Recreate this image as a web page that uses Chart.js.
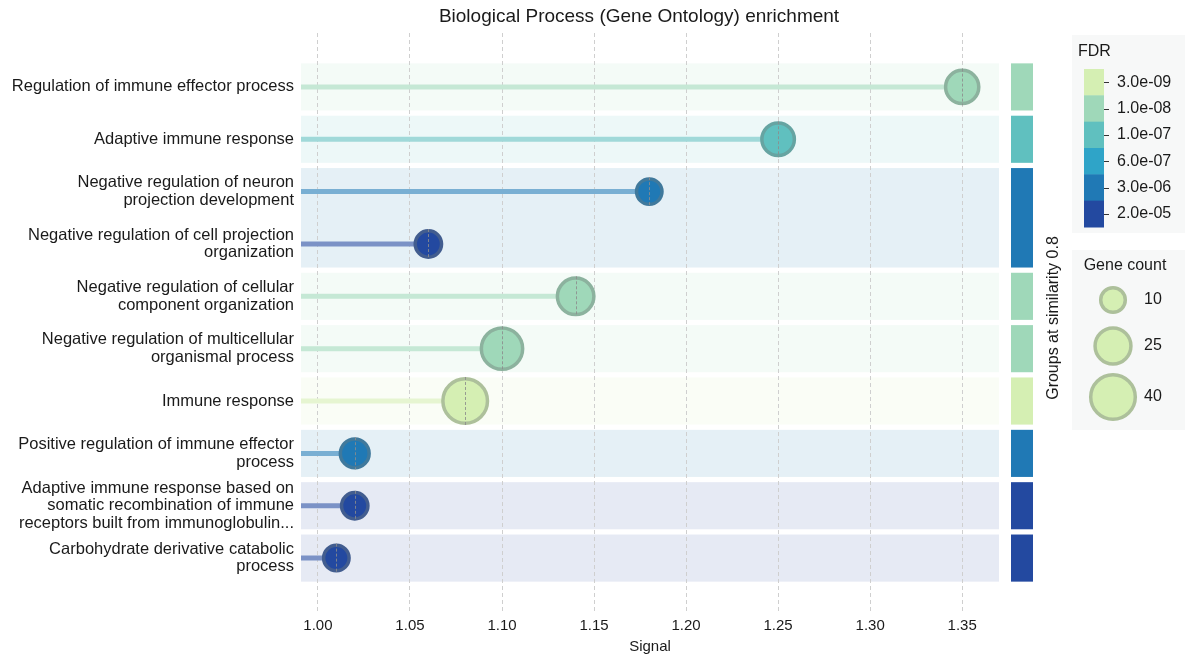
<!DOCTYPE html>
<html>
<head>
<meta charset="utf-8">
<script src="https://cdn.jsdelivr.net/npm/chart.js@4.4.1/dist/chart.umd.min.js"></script>
<style>
  html, body { margin: 0; padding: 0; background: #ffffff; }
  #wrap { width: 1187px; height: 656px; }
</style>
</head>
<body>
<div id="wrap"><canvas id="c" width="1187" height="656"></canvas></div>
<script>
// ---------- data ----------
const termLabels = [
  ['Regulation of immune effector process'],
  ['Adaptive immune response'],
  ['Negative regulation of neuron', 'projection development'],
  ['Negative regulation of cell projection', 'organization'],
  ['Negative regulation of cellular', 'component organization'],
  ['Negative regulation of multicellular', 'organismal process'],
  ['Immune response'],
  ['Positive regulation of immune effector', 'process'],
  ['Adaptive immune response based on', 'somatic recombination of immune', 'receptors built from immunoglobulin...'],
  ['Carbohydrate derivative catabolic', 'process']
];
const signalValues = [1.35, 1.25, 1.18, 1.06, 1.14, 1.10, 1.08, 1.02, 1.02, 1.01];
const geneCounts   = [21, 20, 11, 12, 26, 34, 40, 15, 12, 11];
const fdrLevel     = [1, 2, 4, 5, 1, 1, 0, 4, 5, 5];   // index into fdrLabels / fdrColors
const fdrLabels    = ['3.0e-09', '1.0e-08', '1.0e-07', '6.0e-07', '3.0e-06', '2.0e-05'];
const fdrColors    = ['#d5efb3', '#9fd8b9', '#60c0bf', '#2fa4c8', '#2079b5', '#2349a0'];
const groupRows    = [[0], [1], [2, 3], [4], [5], [6], [7], [8], [9]];
const groupLevel   = [1, 2, 4, 1, 1, 0, 4, 5, 5];
const xTickValues  = [1.00, 1.05, 1.10, 1.15, 1.20, 1.25, 1.30, 1.35];
const legendCounts = [10, 25, 40];

const X_MIN = 0.9908, X_MAX = 1.370;
const FONT = "'Liberation Sans', Arial, Helvetica, sans-serif";

// ---------- helpers ----------
function hexToRgb(h) {
  const n = parseInt(h.slice(1), 16);
  return [(n >> 16) & 255, (n >> 8) & 255, n & 255];
}
function mix(h, other, t) {
  const a = hexToRgb(h);
  const r = a.map((v, i) => Math.round(v * (1 - t) + other[i] * t));
  return 'rgb(' + r.join(',') + ')';
}
const tint   = (h, a) => mix(h, [255, 255, 255], 1 - a);
const shade  = (h) => mix(h, [112, 122, 118], 0.4);
const outerR = (c) => Math.sqrt(70 + 12.7 * c);
const ptR    = (c) => outerR(c) - 1.75;

// ---------- datasets ----------
const bubbleDataset = {
  type: 'scatter',
  data: signalValues.map((v, i) => ({ x: v, y: i })),
  pointRadius: geneCounts.map(ptR),
  pointHoverRadius: geneCounts.map(ptR),
  backgroundColor: fdrLevel.map(l => fdrColors[l]),
  borderColor: fdrLevel.map(l => shade(fdrColors[l])),
  borderWidth: 3.5,
  pointHoverBorderWidth: 3.5
};
const stemDatasets = signalValues.map((v, i) => ({
  type: 'line',
  data: [{ x: X_MIN, y: i }, { x: v, y: i }],
  borderColor: tint(fdrColors[fdrLevel[i]], 0.6),
  borderWidth: 5,
  borderCapStyle: 'butt',
  pointRadius: 0,
  pointHoverRadius: 0,
  fill: false
}));

// ---------- plugins ----------
const backdropPlugin = {
  id: 'backdrop',
  beforeDraw(chart) {
    const { ctx, chartArea, scales } = chart;
    const y = scales.y;
    ctx.save();
    groupRows.forEach((rows, g) => {
      const top = y.getPixelForValue(rows[0] - 0.45);
      const bot = y.getPixelForValue(rows[rows.length - 1] + 0.45);
      const col = fdrColors[groupLevel[g]];
      ctx.fillStyle = tint(col, 0.115);
      ctx.fillRect(chartArea.left, top, chartArea.right - chartArea.left, bot - top);
      ctx.fillStyle = col;
      ctx.fillRect(chartArea.right + 12, top, 22, bot - top);
    });
    ctx.restore();
  },
  afterDatasetsDraw(chart) {
    const { ctx, scales } = chart;
    ctx.save();
    ctx.strokeStyle = 'rgba(140,140,140,0.85)';
    ctx.lineWidth = 1;
    ctx.setLineDash([3, 2]);
    signalValues.forEach((v, i) => {
      const px = Math.round(scales.x.getPixelForValue(v)) + 0.5;
      const py = scales.y.getPixelForValue(i);
      const r = outerR(geneCounts[i]);
      ctx.beginPath();
      ctx.moveTo(px, py - r);
      ctx.lineTo(px, py + r);
      ctx.stroke();
    });
    ctx.restore();
  },
  afterDraw(chart) {
    const { ctx } = chart;
    ctx.save();
    // title
    ctx.fillStyle = '#1a1a1a';
    ctx.font = '19px ' + FONT;
    ctx.textAlign = 'center';
    ctx.textBaseline = 'middle';
    ctx.fillText('Biological Process (Gene Ontology) enrichment', 639, 17);

    // rotated group label
    ctx.save();
    ctx.translate(1054, 318);
    ctx.rotate(-Math.PI / 2);
    ctx.font = '16px ' + FONT;
    ctx.fillText('Groups at similarity 0.8', 0, 0);
    ctx.restore();

    // FDR panel
    ctx.fillStyle = '#f7f8f8';
    ctx.fillRect(1072, 35, 113, 198);
    ctx.fillStyle = '#1a1a1a';
    ctx.textAlign = 'left';
    ctx.font = '16px ' + FONT;
    ctx.fillText('FDR', 1078, 52);
    const segH = (227 - 69) / fdrColors.length;
    fdrColors.forEach((c, k) => {
      ctx.fillStyle = c;
      ctx.fillRect(1084, 69 + k * segH, 20, segH + 0.5);
    });
    ctx.strokeStyle = '#333';
    ctx.lineWidth = 1;
    fdrLabels.forEach((t, k) => {
      const cy = 69 + (k + 0.5) * segH;
      ctx.beginPath();
      ctx.moveTo(1104, Math.round(cy) + 0.5);
      ctx.lineTo(1109, Math.round(cy) + 0.5);
      ctx.stroke();
      ctx.fillStyle = '#1a1a1a';
      ctx.fillText(t, 1117, cy);
    });

    // Gene count panel
    ctx.fillStyle = '#f7f8f8';
    ctx.fillRect(1072, 250, 113, 180);
    ctx.fillStyle = '#1a1a1a';
    ctx.textAlign = 'center';
    ctx.fillText('Gene count', 1125, 266);
    const ys = [300, 346, 397];
    legendCounts.forEach((c, k) => {
      ctx.beginPath();
      ctx.arc(1113, ys[k], ptR(c), 0, Math.PI * 2);
      ctx.fillStyle = fdrColors[0];
      ctx.fill();
      ctx.lineWidth = 3.5;
      ctx.strokeStyle = shade(fdrColors[0]);
      ctx.stroke();
      ctx.fillStyle = '#1a1a1a';
      ctx.textAlign = 'left';
      ctx.fillText(String(c), 1144, ys[k]);
    });
    ctx.restore();
  }
};

// ---------- chart ----------
new Chart(document.getElementById('c'), {
  type: 'scatter',
  data: { datasets: [bubbleDataset, ...stemDatasets] },
  plugins: [backdropPlugin],
  options: {
    responsive: false,
    devicePixelRatio: 1,
    animation: false,
    events: [],
    layout: { padding: { left: 0, top: 33, right: 188, bottom: 0 } },
    plugins: { legend: { display: false }, tooltip: { enabled: false }, title: { display: false } },
    scales: {
      x: {
        type: 'linear',
        min: X_MIN,
        max: X_MAX,
        afterBuildTicks: (s) => { s.ticks = xTickValues.map(v => ({ value: v })); },
        afterFit: (s) => { s.height = 44; },
        ticks: {
          callback: (v) => Number(v).toFixed(2),
          font: { family: FONT, size: 15 },
          color: '#1a1a1a',
          padding: 5,
          autoSkip: false,
          maxRotation: 0
        },
        grid: { color: '#cfcfcf', lineWidth: 1, drawTicks: false },
        border: { display: false, dash: [4, 3] },
        title: { display: true, text: 'Signal', color: '#1a1a1a', font: { family: FONT, size: 15 }, padding: { top: 0, bottom: 0 } }
      },
      y: {
        type: 'linear',
        reverse: true,
        min: -1.03,
        max: 10.03,
        afterBuildTicks: (s) => { s.ticks = termLabels.map((_, i) => ({ value: i })); },
        afterFit: (s) => { s.width = 301; },
        ticks: {
          callback: (v) => termLabels[v],
          font: { family: FONT, size: 16.5, lineHeight: 1.06 },
          color: '#1a1a1a',
          padding: 7,
          autoSkip: false
        },
        grid: { display: false, drawTicks: false },
        border: { display: false }
      }
    }
  }
});
</script>
</body>
</html>
